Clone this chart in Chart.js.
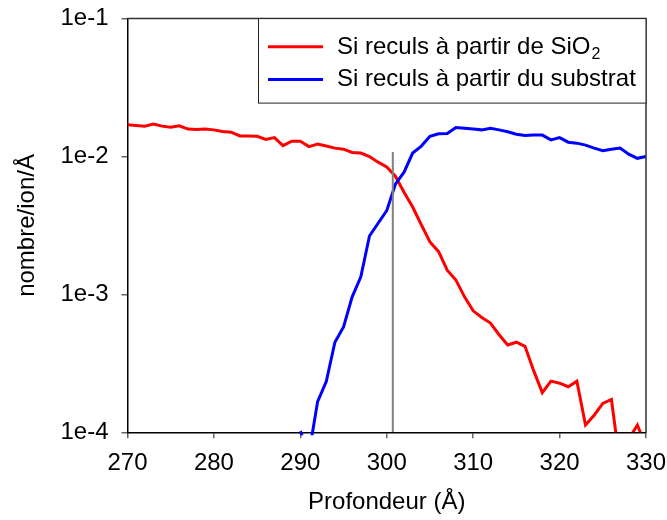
<!DOCTYPE html>
<html>
<head>
<meta charset="utf-8">
<script src="https://cdn.jsdelivr.net/npm/chart.js@4.4.1/dist/chart.umd.min.js"></script>
<style>
  html, body { margin: 0; padding: 0; background: #fff; }
</style>
</head>
<body>
<canvas id="grafico" width="667" height="520"></canvas>
<script>
"use strict";
// Profondeur (Å), un point par angström
const profondeur = [
    270, 271, 272, 273, 274, 275, 276, 277, 278, 279,
    280, 281, 282, 283, 284, 285, 286, 287, 288, 289,
    290, 291, 292, 293, 294, 295, 296, 297, 298, 299,
    300, 301, 302, 303, 304, 305, 306, 307, 308, 309,
    310, 311, 312, 313, 314, 315, 316, 317, 318, 319,
    320, 321, 322, 323, 324, 325, 326, 327, 328, 329,
    330
];
// Si reculs à partir de SiO2 (nombre/ion/Å)
const reculsSiO2 = [
    0.0170, 0.0168, 0.0166, 0.0172, 0.0166, 0.0163, 0.0167, 0.0158, 0.0157, 0.0158,
    0.0156, 0.0152, 0.0150, 0.0141, 0.0141, 0.0140, 0.0133, 0.0137, 0.0120, 0.0129,
    0.0129, 0.0118, 0.0123, 0.0119, 0.0115, 0.0113, 0.0107, 0.0106, 0.0100, 0.0091,
    0.0084, 0.0072, 0.0055, 0.0043, 0.0032, 0.0024, 0.00204, 0.0015, 0.00127, 0.00096,
    0.00076, 0.00068, 0.00062, 0.00051, 0.00043, 0.00045, 0.00042, 0.00028, 0.000194, 0.000235,
    0.000227, 0.000214, 0.000235, 0.000113, 0.000133, 0.000162, 0.000173, 0.000058, 0.000089, 0.000113,
    0.000079
];
// Si reculs à partir du substrat (rien avant 290 Å)
const reculsSubstrat = [
    null, null, null, null, null, null, null, null, null, null,
    null, null, null, null, null, null, null, null, null, null,
    0.000102, 0.00007, 0.000167, 0.000233, 0.00045, 0.00058, 0.00096, 0.00134, 0.00265, 0.00328,
    0.00405, 0.0063, 0.0077, 0.0106, 0.0119, 0.0140, 0.0146, 0.0147, 0.0162, 0.0160,
    0.0158, 0.0156, 0.0160, 0.0156, 0.0151, 0.0145, 0.0142, 0.0143, 0.0143, 0.0132,
    0.0137, 0.0127, 0.0125, 0.0121, 0.0115, 0.0110, 0.0113, 0.0115, 0.0104, 0.0097,
    0.0100
];
// Repère vertical de l'interface
const interfaceX = [300.7, 300.7];
const interfaceY = [0.0001, 0.0108];

const ticksY = [0.0001, 0.001, 0.01, 0.1];
const etiquettesY = ["1e-4", "1e-3", "1e-2", "1e-1"];
const legendes = ["Si reculs à partir de SiO", "Si reculs à partir du substrat"];
const couleurs = ["#ff0000", "#0000ff"];

const police = "'Liberation Sans', Arial, sans-serif";
Chart.defaults.font.family = police;
Chart.defaults.color = "#000";

function points(xs, ys) {
    return xs.map((x, i) => ({ x: x, y: ys[i] }));
}

// Cadre du graphique et légende encadrée en haut à droite
const cadre = {
    id: "cadre",
    afterDraw(chart) {
        const ctx = chart.ctx;
        const a = chart.chartArea;
        ctx.save();
        ctx.strokeStyle = "#333";
        ctx.lineWidth = 1.5;
        ctx.beginPath();
        ctx.moveTo(a.left, a.top);
        ctx.lineTo(a.right, a.top);
        ctx.lineTo(a.right, a.bottom);
        ctx.stroke();

        // légende
        const bx = 258.5, by = a.top, bw = a.right - 258.5, bh = 84.5;
        ctx.fillStyle = "#fff";
        ctx.fillRect(bx, by, bw, bh);
        ctx.strokeStyle = "#222";
        ctx.lineWidth = 1;
        ctx.strokeRect(bx, by, bw, bh);
        legendes.forEach((txt, i) => {
            const yl = 46.7 + i * 32.7;
            ctx.strokeStyle = couleurs[i];
            ctx.lineWidth = 3;
            ctx.beginPath();
            ctx.moveTo(268, yl);
            ctx.lineTo(323, yl);
            ctx.stroke();
            ctx.fillStyle = "#000";
            ctx.font = "24px " + police;
            ctx.textBaseline = "alphabetic";
            ctx.textAlign = "left";
            ctx.fillText(txt, 337, yl + 7);
            if (i === 0) {
                const w = ctx.measureText(txt).width;
                ctx.font = "16px " + police;
                ctx.fillText("2", 337 + w + 1, yl + 12.5);
            }
        });
        ctx.restore();
    }
};

new Chart(document.getElementById("grafico"), {
    type: "line",
    data: {
        datasets: [
            {
                label: "interface",
                data: points(interfaceX, interfaceY),
                borderColor: "#808080",
                borderWidth: 2,
                pointRadius: 0,
                order: 0
            },
            {
                label: legendes[1],
                data: points(profondeur, reculsSubstrat),
                borderColor: couleurs[1],
                borderWidth: 3,
                pointRadius: 0,
                spanGaps: false,
                clip: 3,
                order: 1
            },
            {
                label: legendes[0] + "2",
                data: points(profondeur, reculsSiO2),
                borderColor: couleurs[0],
                borderWidth: 3,
                pointRadius: 0,
                order: 2
            }
        ]
    },
    options: {
        responsive: false,
        animation: false,
        layout: { padding: { top: 18.6, right: 21, left: 0, bottom: 0 } },
        plugins: {
            legend: { display: false },
            tooltip: { enabled: false }
        },
        scales: {
            x: {
                type: "linear",
                min: 270,
                max: 330,
                afterFit: (s) => {
                    s.height = 87.7;
                    s.paddingLeft = 0;
                    s.paddingRight = 0;
                },
                border: { color: "#000", width: 1.5 },
                grid: { drawOnChartArea: false, color: "#666", tickLength: 6, lineWidth: 1.5 },
                ticks: { stepSize: 10, font: { size: 24 }, padding: 11, maxRotation: 0 },
                title: { display: true, text: "Profondeur (Å)", font: { size: 24 }, padding: { top: 0, bottom: 3 } }
            },
            y: {
                type: "logarithmic",
                min: 0.0001,
                max: 0.1,
                afterFit: (s) => {
                    s.width = 127.5;
                    s.paddingTop = 0;
                    s.paddingBottom = 0;
                },
                afterBuildTicks: (s) => { s.ticks = ticksY.map(v => ({ value: v })); },
                border: { color: "#000", width: 1.5 },
                grid: { drawOnChartArea: false, color: "#666", tickLength: 6, lineWidth: 1.5 },
                ticks: {
                    font: { size: 24 },
                    padding: 13,
                    callback: (v) => {
                        const i = ticksY.findIndex(t => Math.abs(Math.log10(t) - Math.log10(v)) < 1e-6);
                        return i >= 0 ? etiquettesY[i] : "";
                    }
                },
                title: { display: true, text: "nombre/ion/Å", font: { size: 24 }, padding: { top: 13, bottom: 0 } }
            }
        }
    },
    plugins: [cadre]
});
</script>
</body>
</html>
